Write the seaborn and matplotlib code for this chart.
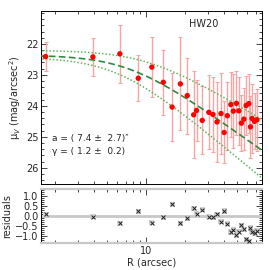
import numpy as np
import pandas as pd
import matplotlib
matplotlib.use("Agg")
import matplotlib.pyplot as plt
import seaborn as sns
from matplotlib.ticker import MultipleLocator, LogLocator, NullFormatter, FixedLocator, FixedFormatter

# ---- data ----
radius = [1.69, 3.91, 6.3, 8.73, 11.1, 13.6, 15.9, 18.4, 20.8, 23.3,
          24.5, 27.1, 30.5, 32.8, 35.2, 37.8, 40.0, 42.3, 45.0, 47.0,
          49.7, 51.8, 54.2, 56.7, 59.0, 61.9, 63.7, 65.5, 68.5, 71.5]
mu = [22.41, 22.42, 22.32, 23.11, 22.75, 23.24, 24.04, 23.29, 23.67, 24.29,
      24.15, 24.47, 24.21, 24.28, 24.52, 24.25, 24.86, 24.32, 23.96, 24.17,
      23.92, 24.16, 24.56, 24.43, 23.99, 23.93, 24.68, 24.41, 24.50, 24.45]
mu_err = [0.48, 0.61, 0.94, 0.75, 0.97, 1.05, 1.1, 1.5, 1.23, 1.4,
          1.0, 1.1, 1.2, 1.2, 1.3, 1.3, 1.0, 1.1, 1.06, 1.2,
          1.03, 1.1, 0.9, 1.0, 0.94, 0.96, 1.0, 1.1, 0.9, 1.0]
residuals = [0.07, -0.05, -0.37, 0.22, -0.35, -0.07, 0.58, -0.37, -0.12, 0.37,
             0.09, 0.30, -0.05, -0.07, 0.07, -0.30, 0.24, -0.40, -0.82, -0.69,
             -0.99, -0.81, -0.47, -0.67, -1.18, -1.28, -0.59, -0.81, -0.89, -0.76]

# fitted model parameters (best fit and the two bounding curves)
fit_params = {"best": (22.36, 7.4, 1.2), "upper": (22.21, 10.1, 1.0), "lower": (22.43, 6.0, 1.4)}
label_a = "a = ( 7.4 \u00b1  2.7)\u2033"
label_g = "\u03b3 = ( 1.2 \u00b1  0.2)"
title_txt = "HW20"
y_ticks = [22, 23, 24, 25, 26]
x_ticks = [10]
x_ticklabels = ["10"]

def model(r, mu0, a, g):
    return mu0 + 1.25 * g * np.log10(1.0 + (r / a) ** 2)

sns.set_style("ticks")
plt.rcParams["font.family"] = ["DejaVu Sans"]
plt.rcParams["font.size"] = 7

fig = plt.figure(figsize=(2.7, 2.7), dpi=100)
ax = fig.add_axes([0.152, 0.319, 0.818, 0.640])
axr = fig.add_axes([0.152, 0.100, 0.818, 0.200])

df = pd.DataFrame({"R": radius, "mu": mu, "err": mu_err, "res": residuals})

rgrid = np.logspace(np.log10(1.5), np.log10(80), 200)
curves = pd.DataFrame({"R": rgrid})
for k, p in fit_params.items():
    curves[k] = model(rgrid, *p)

ax.errorbar(df["R"], df["mu"], yerr=df["err"], fmt="none", ecolor="#f6a5a5",
            elinewidth=1.0, capsize=1.6, capthick=0.8, zorder=2)
sns.lineplot(data=curves, x="R", y="upper", ax=ax, color="#5cb85c", lw=1.1,
             linestyle=(0, (1, 1.3)), zorder=3)
sns.lineplot(data=curves, x="R", y="lower", ax=ax, color="#5cb85c", lw=1.1,
             linestyle=(0, (1, 1.3)), zorder=3)
sns.lineplot(data=curves, x="R", y="best", ax=ax, color="#2e8b3e", lw=1.2,
             linestyle=(0, (4, 2)), zorder=3)
sns.scatterplot(data=df, x="R", y="mu", ax=ax, color="#ff0000", s=15,
                edgecolor="none", zorder=4)

ax.set_xscale("log")
ax.set_xlim(1.56, 78)
ax.set_ylim(26.52, 20.94)
ax.yaxis.set_major_locator(FixedLocator(y_ticks))
ax.yaxis.set_minor_locator(MultipleLocator(0.2))
ax.set_xticks(x_ticks)
ax.set_xticklabels([])
ax.xaxis.set_minor_locator(LogLocator(base=10, subs=np.arange(2, 10)))
ax.xaxis.set_minor_formatter(NullFormatter())
ax.set_xlabel("")
ax.set_ylabel("\u03bc$_V$ (mag/arcsec$^2$)", fontsize=7, labelpad=2)
ax.text(0.735, 0.925, title_txt, transform=ax.transAxes, fontsize=7, ha="center", va="center")
ax.text(0.05, 0.26, label_a, transform=ax.transAxes, fontsize=6.5, ha="left", va="center")
ax.text(0.05, 0.19, label_g, transform=ax.transAxes, fontsize=6.5, ha="left", va="center")

# residual panel
axr.axhline(0, color="#c8c8c8", lw=2, zorder=1)
sns.scatterplot(data=df, x="R", y="res", ax=axr, marker="s", s=14, color="#d0d0d0",
                edgecolor="none", zorder=2)
sns.scatterplot(data=df, x="R", y="res", ax=axr, marker="x", s=8, color="#222222",
                linewidth=0.7, zorder=3)
axr.set_xscale("log")
axr.set_xlim(1.56, 78)
axr.set_ylim(-1.37, 1.35)
axr.yaxis.set_major_locator(MultipleLocator(0.5))
axr.yaxis.set_minor_locator(MultipleLocator(0.1))
axr.xaxis.set_major_locator(FixedLocator(x_ticks))
axr.xaxis.set_major_formatter(FixedFormatter(x_ticklabels))
axr.xaxis.set_minor_locator(LogLocator(base=10, subs=np.arange(2, 10)))
axr.xaxis.set_minor_formatter(NullFormatter())
axr.set_xlabel("R (arcsec)", fontsize=7, labelpad=1)
axr.set_ylabel("residuals", fontsize=7, labelpad=2)

for a_ in (ax, axr):
    a_.tick_params(which="both", direction="in", top=True, right=True, labelsize=7,
                   width=0.6, pad=2)
    a_.tick_params(which="major", length=4)
    a_.tick_params(which="minor", length=2)
    for s in a_.spines.values():
        s.set_linewidth(0.7)
        s.set_color("black")
for s in ("top", "bottom"):
    axr.spines[s].set_color("#c8c8c8")
    axr.spines[s].set_linewidth(1.6)

fig.savefig("out.png", dpi=100)
